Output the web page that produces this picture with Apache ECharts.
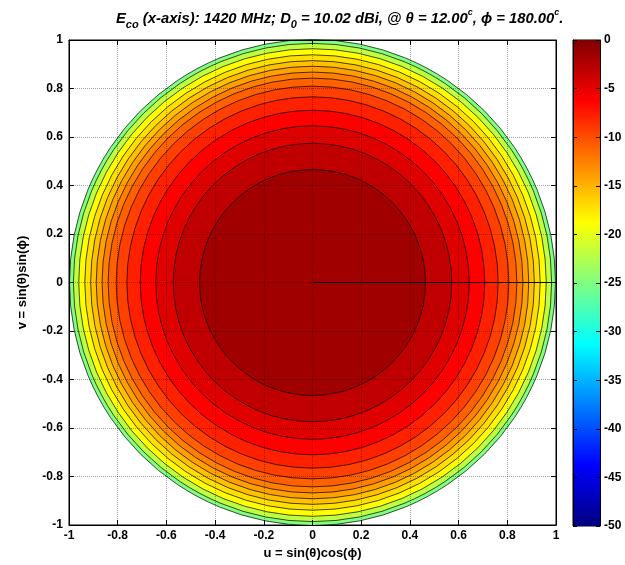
<!DOCTYPE html>
<html>
<head>
<meta charset="utf-8">
<script src="https://cdn.jsdelivr.net/npm/echarts@6/dist/echarts.min.js"></script>
<style>
  html, body { margin: 0; padding: 0; background: #fff; }
  #chart { width: 625px; height: 565px; }
</style>
</head>
<body>
<div id="chart"></div>
<script>
// filled contour regions, outermost first: radius in (u,v) units, level in dB
const contourRadius = [1.0, 0.984, 0.962, 0.937, 0.913, 0.89, 0.866, 0.841, 0.808, 0.764, 0.709, 0.645, 0.573, 0.465];
const contourLevel = [-25, -21.9, -18.75, -17.19, -15.63, -14.06, -12.5, -10.94, -9.38, -7.81, -6.25, -4.69, -3.13, -1.56];
// seam drawn by the contour routine along phi = 0
const seamU = [0, 1];
const seamV = [0, 0];
const colorbarRange = [-50, 0];
// jet colormap, low to high
const jet = ['#000080', '#0000ff', '#0080ff', '#00ffff', '#80ff80', '#ffff00', '#ff8000', '#ff0000', '#800000'];

const FONT = 'Liberation Sans, Arial, Helvetica, sans-serif';
const labelStyle = { color: '#000', fontWeight: 'bold', fontSize: 12, fontFamily: FONT };

const chart = echarts.init(document.getElementById('chart'));

const contourData = contourLevel.map((lv, i) => [lv, contourRadius[i]]);
const seamData = seamU.map((u, i) => [u, seamV[i]]);

function frameAxis(grid, pos, extra) {
  return Object.assign({
    gridIndex: grid, type: 'value', position: pos, z: 3,
    axisLine: { onZero: false, lineStyle: { color: '#000', width: 1 } },
    axisTick: { inside: true, length: 5, lineStyle: { color: '#000' } },
    axisLabel: { show: false },
    splitLine: { show: false }
  }, extra);
}

const option = {
  animation: false,
  backgroundColor: '#fff',
  title: {
    left: 111,
    top: 3,
    text: '{m|E}{sub|co}{m| (x-axis): 1420 MHz; D}{sub|0}{m| = 10.02 dBi, @ θ = 12.00}{sup|c}{m|, ϕ = 180.00}{sup|c}{m|.}',
    textStyle: {
      rich: {
        m: { fontSize: 14.8, fontWeight: 'bold', fontStyle: 'italic', fontFamily: FONT, color: '#000', lineHeight: 22 },
        sub: { fontSize: 11, fontWeight: 'bold', fontStyle: 'italic', fontFamily: FONT, color: '#000', lineHeight: 8, verticalAlign: 'bottom' },
        sup: { fontSize: 9, fontWeight: 'bold', fontStyle: 'italic', fontFamily: FONT, color: '#000', lineHeight: 8, verticalAlign: 'top' }
      }
    }
  },
  grid: [
    { left: 69, right: 69, top: 40, bottom: 39, show: true, borderColor: '#000', borderWidth: 1, backgroundColor: 'transparent' },
    { left: 573, right: 25, top: 40, bottom: 39, show: true, borderColor: '#000', borderWidth: 1 }
  ],
  visualMap: {
    show: false,
    type: 'continuous',
    seriesIndex: 0,
    dimension: 0,
    min: colorbarRange[0],
    max: colorbarRange[1],
    inRange: { color: jet }
  },
  xAxis: [
    frameAxis(0, 'bottom', {
      min: -1, max: 1, interval: 0.2,
      name: 'u = sin(θ)cos(ϕ)', nameLocation: 'middle', nameGap: 22,
      nameTextStyle: { color: '#000', fontWeight: 'bold', fontSize: 13, fontFamily: FONT },
      axisLabel: Object.assign({ show: true, margin: 5 }, labelStyle),
      splitLine: { show: true, lineStyle: { type: 'dotted', color: 'rgba(0,0,0,0.35)', width: 1 } }
    }),
    frameAxis(0, 'top', { min: -1, max: 1, interval: 0.2 }),
    { gridIndex: 1, type: 'value', min: 0, max: 1, show: false }
  ],
  yAxis: [
    frameAxis(0, 'left', {
      min: -1, max: 1, interval: 0.2,
      name: 'v = sin(θ)sin(ϕ)', nameLocation: 'middle', nameGap: 40,
      nameTextStyle: { color: '#000', fontWeight: 'bold', fontSize: 13, fontFamily: FONT },
      axisLabel: Object.assign({ show: true, margin: 6 }, labelStyle),
      splitLine: { show: true, lineStyle: { type: 'dotted', color: 'rgba(0,0,0,0.35)', width: 1 } }
    }),
    frameAxis(0, 'right', { min: -1, max: 1, interval: 0.2 }),
    frameAxis(1, 'right', {
      min: colorbarRange[0], max: colorbarRange[1], interval: 5,
      axisTick: { inside: true, length: 4, lineStyle: { color: '#000' } },
      axisLabel: Object.assign({ show: true, margin: 4 }, labelStyle)
    }),
    frameAxis(1, 'left', {
      min: colorbarRange[0], max: colorbarRange[1], interval: 5,
      axisTick: { inside: true, length: 4, lineStyle: { color: '#000' } }
    })
  ],
  series: [
    {
      type: 'custom',
      xAxisIndex: 0,
      yAxisIndex: 0,
      data: contourData,
      encode: { x: -1, y: -1 },
      renderItem: function (params, api) {
        const c = api.coord([0, 0]);
        const s = api.size([api.value(1), api.value(1)]);
        return {
          type: 'circle',
          shape: { cx: c[0], cy: c[1], r: (s[0] + s[1]) / 2 },
          style: { fill: api.visual('color'), stroke: '#000', lineWidth: 0.7 }
        };
      },
      z: 2
    },
    {
      type: 'line',
      xAxisIndex: 0,
      yAxisIndex: 0,
      data: seamData,
      symbol: 'none',
      lineStyle: { color: '#000', width: 1 },
      z: 4
    },
    {
      type: 'custom',
      xAxisIndex: 2,
      yAxisIndex: 2,
      data: [[0, colorbarRange[0], colorbarRange[1]]],
      encode: { x: -1, y: -1 },
      renderItem: function (params, api) {
        const lo = api.coord([0, api.value(1)]);
        const hi = api.coord([1, api.value(2)]);
        return {
          type: 'rect',
          shape: { x: lo[0], y: hi[1], width: hi[0] - lo[0], height: lo[1] - hi[1] },
          style: {
            fill: {
              type: 'linear', x: 0, y: 1, x2: 0, y2: 0,
              colorStops: jet.map((c, i) => ({ offset: i / (jet.length - 1), color: c }))
            }
          }
        };
      },
      z: 1
    }
  ]
};

chart.setOption(option);
</script>
</body>
</html>
